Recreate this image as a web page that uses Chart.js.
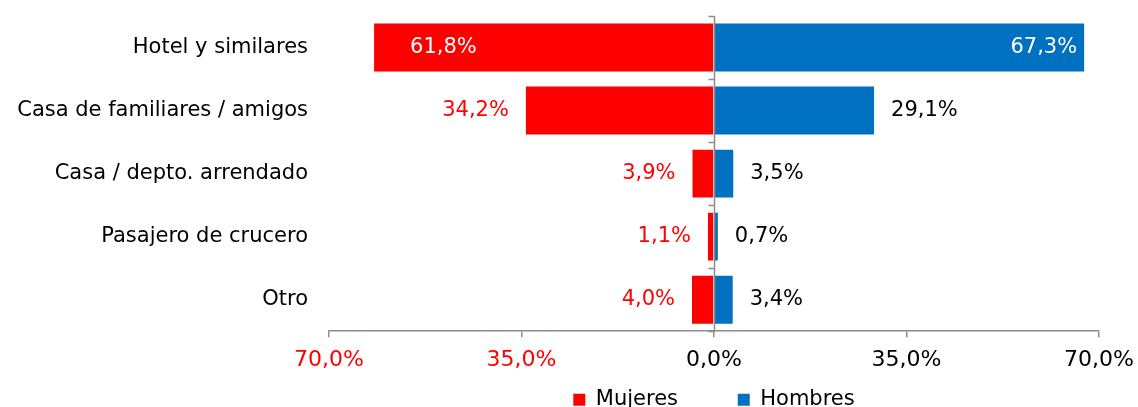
<!DOCTYPE html>
<html>
<head>
<meta charset="utf-8">
<script src="https://cdn.jsdelivr.net/npm/chart.js@4"></script>
<style>
  html, body { margin: 0; padding: 0; background: #fff; overflow: hidden; }
  #wrap { width: 1138px; height: 407px; position: relative; }
</style>
</head>
<body>
<div id="wrap"><canvas id="chart"></canvas></div>
<script>
const categories = ['Hotel y similares', 'Casa de familiares / amigos', 'Casa / depto. arrendado', 'Pasajero de crucero', 'Otro'];
const mujeres = [61.8, 34.2, 3.9, 1.1, 4.0];
const hombres = [67.3, 29.1, 3.5, 0.7, 3.4];
const xTicks = [-70, -35, 0, 35, 70];

const RED = '#FF0000';
const BLUE = '#0070C0';
const GREY = '#8C8C8C';
const FONT = 'DejaVu Sans';
const SIZE = 21;

const fmt = v => Math.abs(v).toFixed(1).replace('.', ',') + '%';

// vertical line at zero with small ticks between categories
const centerLine = {
  id: 'centerLine',
  afterDatasetsDraw(chart) {
    const { ctx, chartArea, scales } = chart;
    const x0 = Math.round(scales.x.getPixelForValue(0)) + 0.5;
    ctx.save();
    ctx.strokeStyle = GREY;
    ctx.lineWidth = 1.5;
    ctx.beginPath();
    ctx.moveTo(x0, chartArea.top);
    ctx.lineTo(x0, chartArea.bottom);
    const step = (chartArea.bottom - chartArea.top) / categories.length;
    for (let i = 0; i <= categories.length; i++) {
      const y = Math.round(chartArea.top + i * step) + 0.5;
      ctx.moveTo(x0 - 6, y);
      ctx.lineTo(x0, y);
    }
    ctx.stroke();
    ctx.restore();
  }
};

// value labels
const valueLabels = {
  id: 'valueLabels',
  afterDatasetsDraw(chart) {
    const { ctx } = chart;
    ctx.save();
    ctx.font = SIZE + 'px "' + FONT + '"';
    ctx.textBaseline = 'middle';
    chart.data.datasets.forEach((ds, di) => {
      const meta = chart.getDatasetMeta(di);
      meta.data.forEach((bar, i) => {
        const txt = fmt(ds.data[i]);
        if (di === 0) {
          if (i === 0) {
            ctx.fillStyle = '#FFFFFF';
            ctx.textAlign = 'left';
            ctx.fillText(txt, bar.x + 36, bar.y);
          } else {
            ctx.fillStyle = RED;
            ctx.textAlign = 'right';
            ctx.fillText(txt, bar.x - 17, bar.y);
          }
        } else {
          if (i === 0) {
            ctx.fillStyle = '#FFFFFF';
            ctx.textAlign = 'right';
            ctx.fillText(txt, bar.x - 7, bar.y);
          } else {
            ctx.fillStyle = '#000000';
            ctx.textAlign = 'left';
            ctx.fillText(txt, bar.x + 17, bar.y);
          }
        }
      });
    });
    ctx.restore();
  }
};

new Chart(document.getElementById('chart'), {
  type: 'bar',
  data: {
    labels: categories,
    datasets: [
      {
        label: 'Mujeres',
        data: mujeres.map(v => -v),
        backgroundColor: RED,
        categoryPercentage: 1,
        barPercentage: 0.76,
      },
      {
        label: 'Hombres',
        data: hombres,
        backgroundColor: BLUE,
        categoryPercentage: 1,
        barPercentage: 0.76,
      },
    ],
  },
  options: {
    indexAxis: 'y',
    responsive: true,
    maintainAspectRatio: false,
    animation: false,
    layout: { padding: { top: 16, right: 39, bottom: -13.2, left: 0 } },
    scales: {
      x: {
        stacked: true,
        min: -70,
        max: 70,
        afterBuildTicks: axis => { axis.ticks = xTicks.map(v => ({ value: v })); },
        afterFit: axis => { axis.height = 45; axis.paddingLeft = 0; axis.paddingRight = 0; },
        grid: { drawOnChartArea: false, drawTicks: true, tickLength: 6, color: GREY, lineWidth: 1.5 },
        border: { display: true, color: GREY, width: 1.5 },
        ticks: {
          padding: 10,
          maxRotation: 0,
          autoSkip: false,
          font: { family: FONT, size: 22 },
          color: ctx => (ctx.tick && ctx.tick.value < 0 ? RED : '#000000'),
          callback: v => fmt(v),
        },
      },
      y: {
        stacked: true,
        afterFit: axis => { axis.width = 329; axis.paddingTop = 0; axis.paddingBottom = 0; },
        grid: { display: false },
        border: { display: false },
        ticks: {
          padding: 13,
          font: { family: FONT, size: SIZE },
          color: '#000000',
        },
      },
    },
    plugins: {
      legend: {
        position: 'bottom',
        fullSize: false,
        labels: {
          boxWidth: 12,
          boxHeight: 12,
          padding: 13,
          color: '#000000',
          font: { family: FONT, size: SIZE },
          // wider gap after the first entry, as in the original
          generateLabels: chart => {
            const items = Chart.defaults.plugins.legend.labels.generateLabels(chart);
            items[0].text = items[0].text + '       ';
            return items;
          },
        },
      },
      tooltip: { enabled: false },
    },
  },
  plugins: [centerLine, valueLabels],
});
</script>
</body>
</html>
